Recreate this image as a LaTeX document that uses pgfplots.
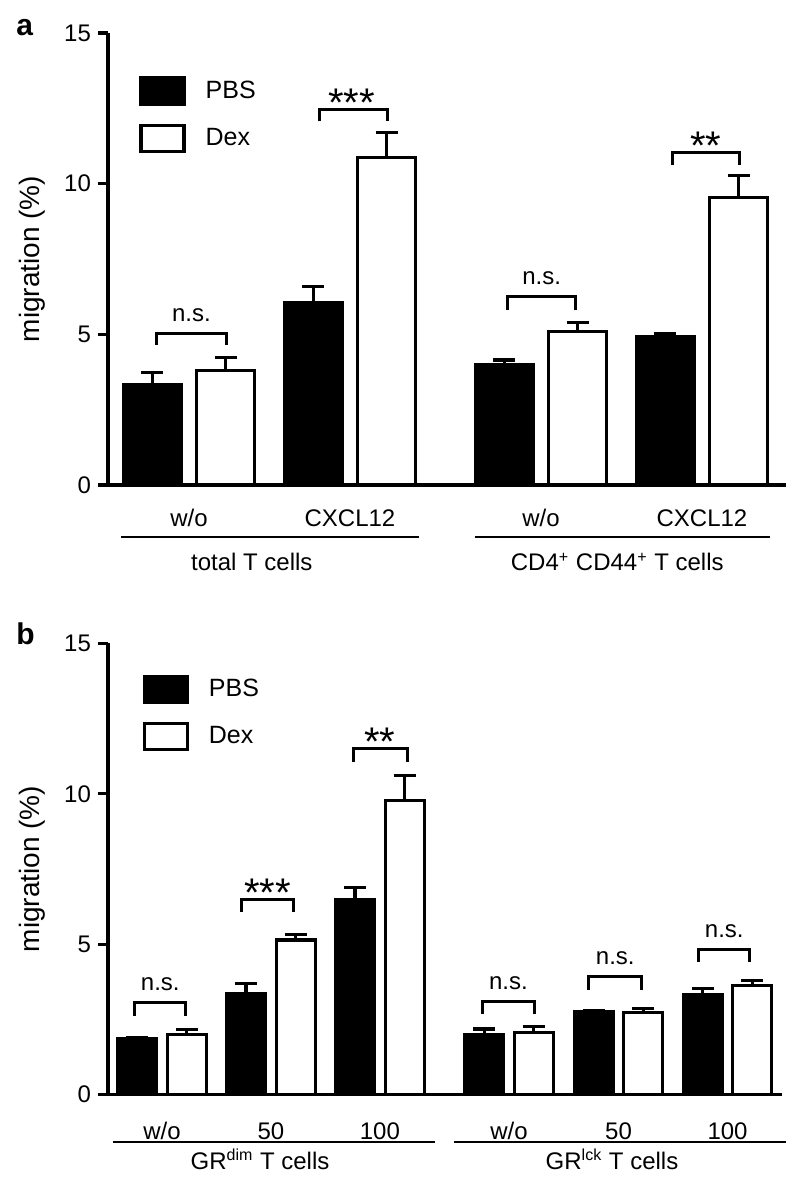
\documentclass[border=0pt]{standalone}
\usepackage{fontspec}
\setmainfont{Liberation Sans}
\usepackage{pgfplots}
\usepackage{pgfplotstable}
\pgfplotsset{compat=1.18}

% panel a  (x = category position, y = mean, e = upper error)
\pgfplotstableread{
x y e
0 3.32 0.41
1 6.05 0.54
2.186 3.98 0.17
3.186 4.91 0.10
}\aPBS
\pgfplotstableread{
x y e
0 3.80 0.44
1 10.87 0.83
2.186 5.09 0.31
3.186 9.55 0.71
}\aDex
% panel b
\pgfplotstableread{
x y e
0 1.86 0.03
1 3.37 0.31
2 6.49 0.40
3.185 1.99 0.19
4.19 2.76 0.04
5.19 3.31 0.22
}\bPBS
\pgfplotstableread{
x y e
0 2.00 0.16
1 5.14 0.18
2 9.79 0.82
3.185 2.06 0.20
4.19 2.74 0.13
5.19 3.62 0.17
}\bDex

\newcommand{\tfont}{\fontsize{12}{14}\selectfont}
\newcommand{\sfont}{\fontsize{20}{20}\selectfont}

\pgfplotsset{
  panel/.style={
    scale only axis, anchor=south west, clip=false,
    ymin=0, ymax=15, ytick={0,5,10,15},
    axis x line*=bottom, axis y line*=left,
    axis line style={-, line width=1.6pt, black},
    tick align=outside, major tick length=5pt,
    ytick style={line width=1.6pt, black},
    xtick style={draw=none},
    /pgf/number format/assume math mode=true,
    tick label style={font=\tfont},
    ylabel={migration (\%)},
    ylabel style={font=\fontsize{14}{16}\selectfont, at={(axis description cs:-0.112,0.5)}, anchor=center},
    legend cell align=left,
    legend style={draw=none, fill=none, inner sep=0pt, font=\fontsize{12.5}{14}\selectfont,
      row sep=9pt, /tikz/every odd column/.append style={column sep=8pt}},
  },
  errs/.style={error bars/.cd, y dir=plus, y explicit,
    error bar style={line width=1.6pt, black},
    error mark options={rotate=90, mark size=5.5pt, line width=1.6pt, black}},
  boxleg/.style={legend image code/.code={\draw[##1, line width=1.6pt] (0pt,-6.5pt) rectangle (21.5pt,6.5pt);}},
}

\newcommand{\brk}[4]{% x1 x2 ytop ylow
  \draw[line width=1.5pt] (axis cs:#1,#4) -- (axis cs:#1,#3) -- (axis cs:#2,#3) -- (axis cs:#2,#4);}

\begin{document}
\begin{tikzpicture}
\useasboundingbox (0,0) rectangle (400pt,593pt);

\node[anchor=base west, font=\bfseries\fontsize{15}{15}\selectfont, inner sep=0pt] at (8pt,575pt) {a};
\node[anchor=base west, font=\bfseries\fontsize{15}{15}\selectfont, inner sep=0pt] at (8pt,270.6pt) {b};

% ---------------- panel a
\begin{axis}[panel,
  at={(54pt,350.5pt)}, width=339pt, height=226pt,
  xmin=-0.503, xmax=3.708,
  xtick={0,1,2.186,3.186}, xticklabels={w/o,CXCL12,w/o,CXCL12},
  xticklabel style={anchor=base, yshift=-15.8pt},
  legend style={at={(axis cs:-0.31,13.57)}, anchor=north west},
]
\addplot[ybar, bar width=0.36, bar shift=0, fill=black, draw=black, line width=1.6pt, boxleg, errs]
  table[x expr=\thisrow{x}-0.228, y=y, y error=e] {\aPBS};
\addlegendentry{PBS}
\addplot[ybar, bar width=0.36, bar shift=0, fill=white, draw=black, line width=1.6pt, boxleg, errs]
  table[x expr=\thisrow{x}+0.228, y=y, y error=e] {\aDex};
\addlegendentry{Dex}

\brk{-0.2}{0.23}{5.04}{4.64}
\node[anchor=base, font=\tfont] at ([yshift=6pt]axis cs:0.015,5.04) {n.s.};
\brk{0.81}{1.23}{12.45}{12.07}
\node[anchor=base, font=\sfont, inner sep=0pt] at ([yshift=-3.4pt]axis cs:1.01,12.45) {***};
\brk{1.98}{2.40}{6.25}{5.80}
\node[anchor=base, font=\tfont] at ([yshift=6pt]axis cs:2.19,6.25) {n.s.};
\brk{3.0}{3.42}{11.04}{10.61}
\node[anchor=base, font=\sfont, inner sep=0pt] at ([yshift=-3.4pt]axis cs:3.21,11.04) {**};

\draw[line width=1.3pt] ([yshift=-26pt]axis cs:-0.422,0) -- ([yshift=-26pt]axis cs:1.429,0);
\draw[line width=1.3pt] ([yshift=-26pt]axis cs:1.776,0) -- ([yshift=-26pt]axis cs:3.609,0);
\node[anchor=base, font=\tfont] at ([yshift=-43pt]axis cs:0.39,0) {total T cells};
\node[anchor=base, font=\tfont] at ([yshift=-43pt]axis cs:2.66,0) {CD4\textsuperscript{+} CD44\textsuperscript{+} T cells};
\end{axis}

% ---------------- panel b
\begin{axis}[panel,
  at={(54pt,45.75pt)}, width=337pt, height=225.5pt,
  xmin=-0.495, xmax=5.69,
  xtick={0,1,2,3.185,4.19,5.19}, xticklabels={w/o,50,100,w/o,50,100},
  xticklabel style={anchor=base, yshift=-17.5pt},
  ylabel style={at={(axis description cs:-0.113,0.5)}},
  legend style={at={(axis cs:-0.18,13.98)}, anchor=north west},
]
\addplot[ybar, bar width=0.358, bar shift=0, fill=black, draw=black, line width=1.6pt, boxleg, errs]
  table[x expr=\thisrow{x}-0.228, y=y, y error=e] {\bPBS};
\addlegendentry{PBS}
\addplot[ybar, bar width=0.358, bar shift=0, fill=white, draw=black, line width=1.6pt, boxleg, errs]
  table[x expr=\thisrow{x}+0.228, y=y, y error=e] {\bDex};
\addlegendentry{Dex}

\brk{-0.25}{0.22}{3.07}{2.61}
\node[anchor=base, font=\tfont] at ([yshift=6pt]axis cs:-0.015,3.07) {n.s.};
\brk{0.73}{1.21}{6.47}{6.08}
\node[anchor=base, font=\sfont, inner sep=0pt] at ([yshift=-3.4pt]axis cs:0.97,6.47) {***};
\brk{1.76}{2.25}{11.5}{11.07}
\node[anchor=base, font=\sfont, inner sep=0pt] at ([yshift=-3.4pt]axis cs:2.0,11.5) {**};
\brk{2.94}{3.42}{3.10}{2.68}
\node[anchor=base, font=\tfont] at ([yshift=6pt]axis cs:3.18,3.10) {n.s.};
\brk{3.91}{4.40}{3.92}{3.49}
\node[anchor=base, font=\tfont] at ([yshift=6pt]axis cs:4.16,3.92) {n.s.};
\brk{4.92}{5.39}{4.83}{4.42}
\node[anchor=base, font=\tfont] at ([yshift=6pt]axis cs:5.16,4.83) {n.s.};

\draw[line width=1.3pt] ([yshift=-23.75pt]axis cs:-0.45,0) -- ([yshift=-23.75pt]axis cs:2.505,0);
\draw[line width=1.3pt] ([yshift=-23.75pt]axis cs:2.679,0) -- ([yshift=-23.75pt]axis cs:5.725,0);
\node[anchor=base, font=\tfont] at ([yshift=-37.5pt]axis cs:0.9,0) {GR\textsuperscript{dim} T cells};
\node[anchor=base, font=\tfont] at ([yshift=-37.5pt]axis cs:4.13,0) {GR\textsuperscript{lck} T cells};
\end{axis}
\end{tikzpicture}
\end{document}
